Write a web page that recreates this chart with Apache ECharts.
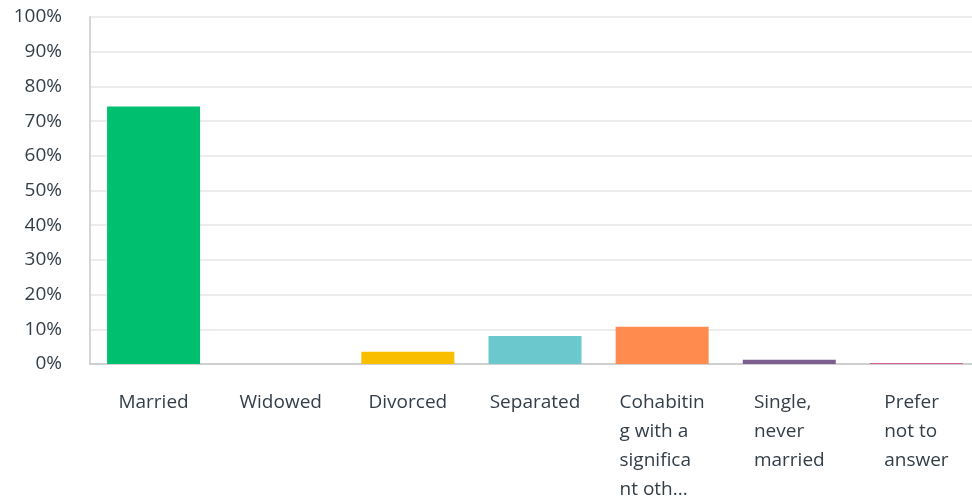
<!DOCTYPE html>
<html><head><meta charset="utf-8">
<script src="https://cdn.jsdelivr.net/npm/echarts@6/dist/echarts.min.js"></script>
<style>html,body{margin:0;padding:0;background:#fff}#c{width:972px;height:502px}</style>
</head><body><div id="c"></div>
<script>
const categories = ["Married","Widowed","Divorced","Separated","Cohabiting with a significant other","Single, never married","Prefer not to answer"];
const categoryLabels = [["Married"],["Widowed"],["Divorced"],["Separated"],["Cohabitin","g with a","significa","nt oth..."],["Single,","never","married"],["Prefer","not to","answer"]];
const values = [74.2, 0, 3.5, 8.1, 10.7, 1.2, 0.3];
const barColors = ["#00BF6F","#507CB6","#F9BE00","#6BC8CD","#FF8B4F","#7D5E90","#D25F90"];
const yTicks = [0,10,20,30,40,50,60,70,80,90,100];

const FONT = 'Open Sans';
const chart = echarts.init(document.getElementById('c'));
chart.setOption({
  animation:false,
  grid:{left:90,right:-8,top:17,bottom:138,containLabel:false,outerBoundsMode:'none'},
  xAxis:{type:'category',data:categories,
    axisLine:{lineStyle:{color:'#cfcfcf',width:2}},
    axisTick:{show:false},
    axisLabel:{margin:24,interval:0,color:'#333e48',fontFamily:FONT,fontSize:19,lineHeight:29,
      formatter:(v,i)=>categoryLabels[i].map(s=>'{l|'+s+'}').join('\n'),
      rich:{l:{align:'left',color:'#333e48',fontFamily:FONT,fontSize:19,lineHeight:29}}}
  },
  yAxis:{type:'value',min:0,max:100,interval:10,
    axisLine:{show:true,lineStyle:{color:'#d6d6d6',width:2}},
    axisTick:{show:false},
    splitLine:{lineStyle:{color:'#ececec',width:2}},
    axisLabel:{margin:28,color:'#333e48',fontFamily:FONT,fontSize:19,padding:[8,0,0,0],formatter:v=>v+'%'}
  },
  series:[{type:'bar',data:values.map((v,i)=>({value:v,itemStyle:{color:barColors[i]}})),barWidth:93}]
});
</script></body></html>
